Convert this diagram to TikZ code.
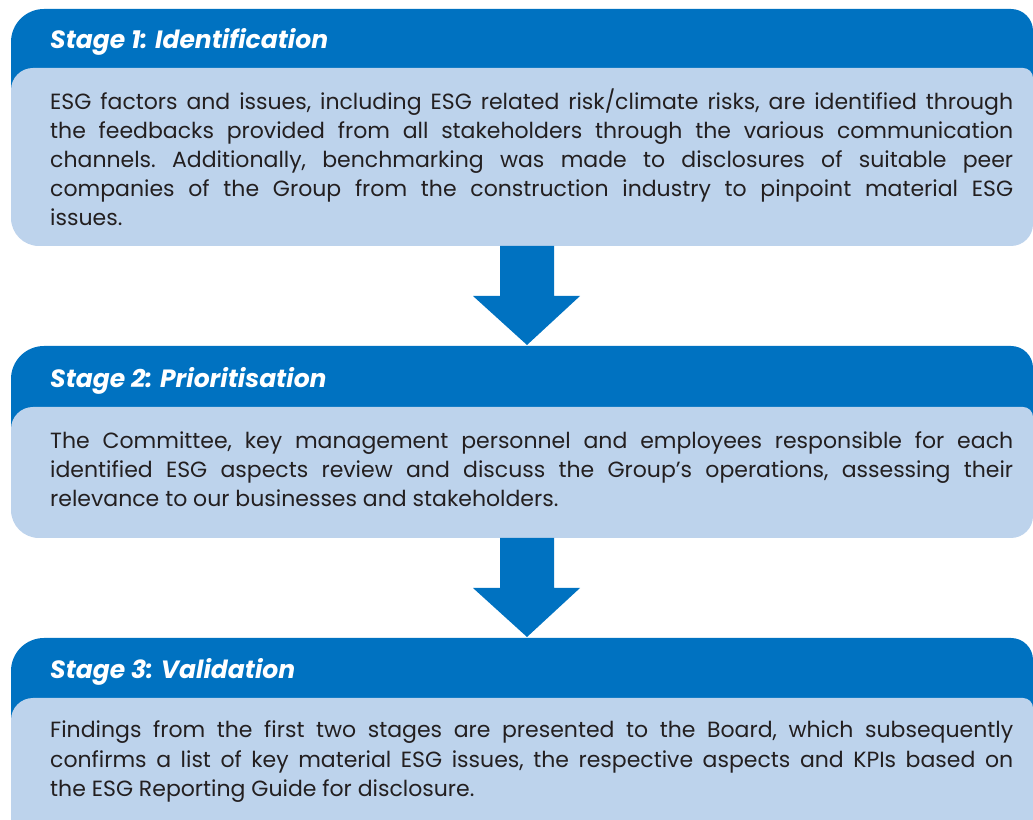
\documentclass[tikz,border=0pt]{standalone}
\usepackage{fontspec}
\setmainfont{Poppins}
\definecolor{darkblue}{HTML}{0072C1}
\definecolor{lightblue}{HTML}{BDD3EC}
\definecolor{textgray}{HTML}{231F20}
\tikzset{
  darkpart/.style={fill=darkblue},
  lightpart/.style={fill=lightblue},
  titletext/.style={anchor=base west, inner sep=0pt, text=white, font=\fontsize{25}{30}\selectfont\bfseries\itshape},
  bodytext/.style={anchor=base west, inner sep=0pt, text=textgray},
  blockarrow/.style={fill=darkblue}
}
\newcommand{\bodypar}[1]{\parbox[t]{963pt}{\fontsize{22}{29}\selectfont\frenchspacing\setlength{\parfillskip}{0pt plus 1fil}#1}}
% stage box: #1 top, #2 light top, #3 bottom
\newcommand{\stagebox}[3]{%
  \fill[darkpart] (11,#2-30) -- (11,#1-33) arc[start angle=180,end angle=90,radius=33]
     -- (1011,#1) arc[start angle=90,end angle=0,radius=22] -- (1033,#2-30) -- cycle;
  \fill[lightpart] (11,#2-22) arc[start angle=180,end angle=90,radius=22]
     -- (1023,#2) arc[start angle=90,end angle=0,radius=10]
     -- (1033,#3+22) arc[start angle=0,end angle=-90,radius=22]
     -- (39,#3) arc[start angle=270,end angle=180,radius=28] -- cycle;
}
\begin{document}
\begin{tikzpicture}[x=1pt,y=1pt]
\useasboundingbox (0,0) rectangle (1033,819);
\begin{scope}
\clip (0,0) rectangle (1033,819);
\stagebox{810}{751}{573}
\stagebox{473}{412}{281}
\stagebox{181}{121}{-40}

% named anchor points for connectors
\coordinate (s1bot) at (527,573);
\coordinate (s2top) at (527,474);
\coordinate (s2bot) at (527,281);
\coordinate (s3top) at (527,182);

\fill[blockarrow] ([xshift=-27pt]s1bot) -- ([xshift=-27pt,yshift=-50pt]s1bot) -- ([xshift=-54pt,yshift=-50pt]s1bot)
  -- (s2top) -- ([xshift=53pt,yshift=-50pt]s1bot) -- ([xshift=27pt,yshift=-50pt]s1bot) -- ([xshift=27pt]s1bot) -- cycle;
\fill[blockarrow] ([xshift=-27pt]s2bot) -- ([xshift=-27pt,yshift=-50pt]s2bot) -- ([xshift=-54pt,yshift=-50pt]s2bot)
  -- (s3top) -- ([xshift=53pt,yshift=-50pt]s2bot) -- ([xshift=27pt,yshift=-50pt]s2bot) -- ([xshift=27pt]s2bot) -- cycle;
\end{scope}

\node[titletext] (t1) at (50,770) {Stage 1: Identification};
\node[titletext] (t2) at (50,431) {Stage 2: Prioritisation};
\node[titletext] (t3) at (50,140) {Stage 3: Validation};

\node[bodytext] (b1) at (50,709) {\bodypar{ESG factors and issues, including ESG related risk/climate risks, are identified through\linebreak the feedbacks provided from all stakeholders through the various communication\linebreak channels. Additionally, benchmarking was made to disclosures of suitable peer\linebreak companies of the Group from the construction industry to pinpoint material ESG\linebreak issues.}};
\node[bodytext] (b2) at (50,370) {\bodypar{The Committee, key management personnel and employees responsible for each\linebreak identified ESG aspects review and discuss the Group’s operations, assessing their\linebreak relevance to our businesses and stakeholders.}};
\node[bodytext] (b3) at (50,81) {\bodypar{Findings from the first two stages are presented to the Board, which subsequently\linebreak confirms a list of key material ESG issues, the respective aspects and KPIs based on\linebreak the ESG Reporting Guide for disclosure.}};
\end{tikzpicture}
\end{document}
